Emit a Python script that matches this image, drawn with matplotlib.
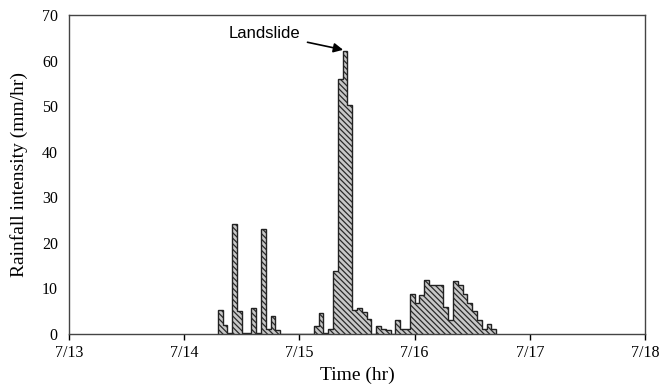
import numpy as np
import matplotlib
matplotlib.use("Agg")
import matplotlib.pyplot as plt

# hourly rainfall, hour 0 = 7/13 00:00
start_hour = 31
rain = [5.3, 2.0, 0.3, 24.1, 5.1, 0.3, 0.3, 5.8, 0.3, 23.0, 1.0, 4.0, 0.8,
        0, 0, 0, 0, 0, 0, 0,
        1.8, 4.7, 0.3, 1.2, 13.9, 56.0, 62.0, 50.3, 5.3, 5.8, 4.9, 3.4, 0,
        1.8, 1.0, 0.9, 0, 3.1, 1.0, 1.0,
        8.8, 6.9, 8.6, 11.8, 10.8, 10.8, 10.8, 6.0, 3.1, 11.7, 10.8, 8.7,
        6.9, 5.1, 3.1, 1.0, 2.3, 1.0]
edges = np.arange(start_hour, start_hour + len(rain) + 1)

day_ticks = [0, 24, 48, 72, 96, 120]
day_labels = ["7/13", "7/14", "7/15", "7/16", "7/17", "7/18"]
y_ticks = [0, 10, 20, 30, 40, 50, 60, 70]

plt.rcParams["font.family"] = "Liberation Serif"
plt.rcParams["hatch.color"] = "#2a2a2a"
plt.rcParams["hatch.linewidth"] = 0.9

fig = plt.figure(figsize=(6.69, 3.86), dpi=100)
ax = fig.add_axes([0.1031, 0.1347, 0.861, 0.8264])

# filled hatched histogram, then the step outline on top
ax.stairs(rain, edges, fill=True, facecolor="#c8c8c8", edgecolor="#2a2a2a",
          hatch="\\\\\\\\\\\\", linewidth=0)
ax.stairs(rain, edges, fill=False, color="#222222", linewidth=1.0, baseline=0)

ax.set_xlim(0, 120)
ax.set_ylim(0, 70)
ax.set_xticks(day_ticks)
ax.set_xticklabels(day_labels)
ax.set_yticks(y_ticks)
ax.tick_params(axis="x", direction="out", length=4, width=1, labelsize=11.5, pad=4)
ax.tick_params(axis="y", length=0, labelsize=11.5, pad=8)

for s in ax.spines.values():
    s.set_color("#444444")
    s.set_linewidth(1.0)

ax.set_xlabel("Time (hr)", fontsize=14, labelpad=4)
ax.set_ylabel("Rainfall intensity (mm/hr)", fontsize=14, labelpad=10)

ax.annotate("Landslide", xy=(57.4, 62.3), xytext=(40.8, 66.0),
            ha="center", va="center", fontsize=12, family="Liberation Sans",
            arrowprops=dict(arrowstyle="-|>", color="black", lw=1.2,
                            mutation_scale=14, shrinkA=3, shrinkB=1))

plt.savefig("out.png", dpi=100)
plt.close()
